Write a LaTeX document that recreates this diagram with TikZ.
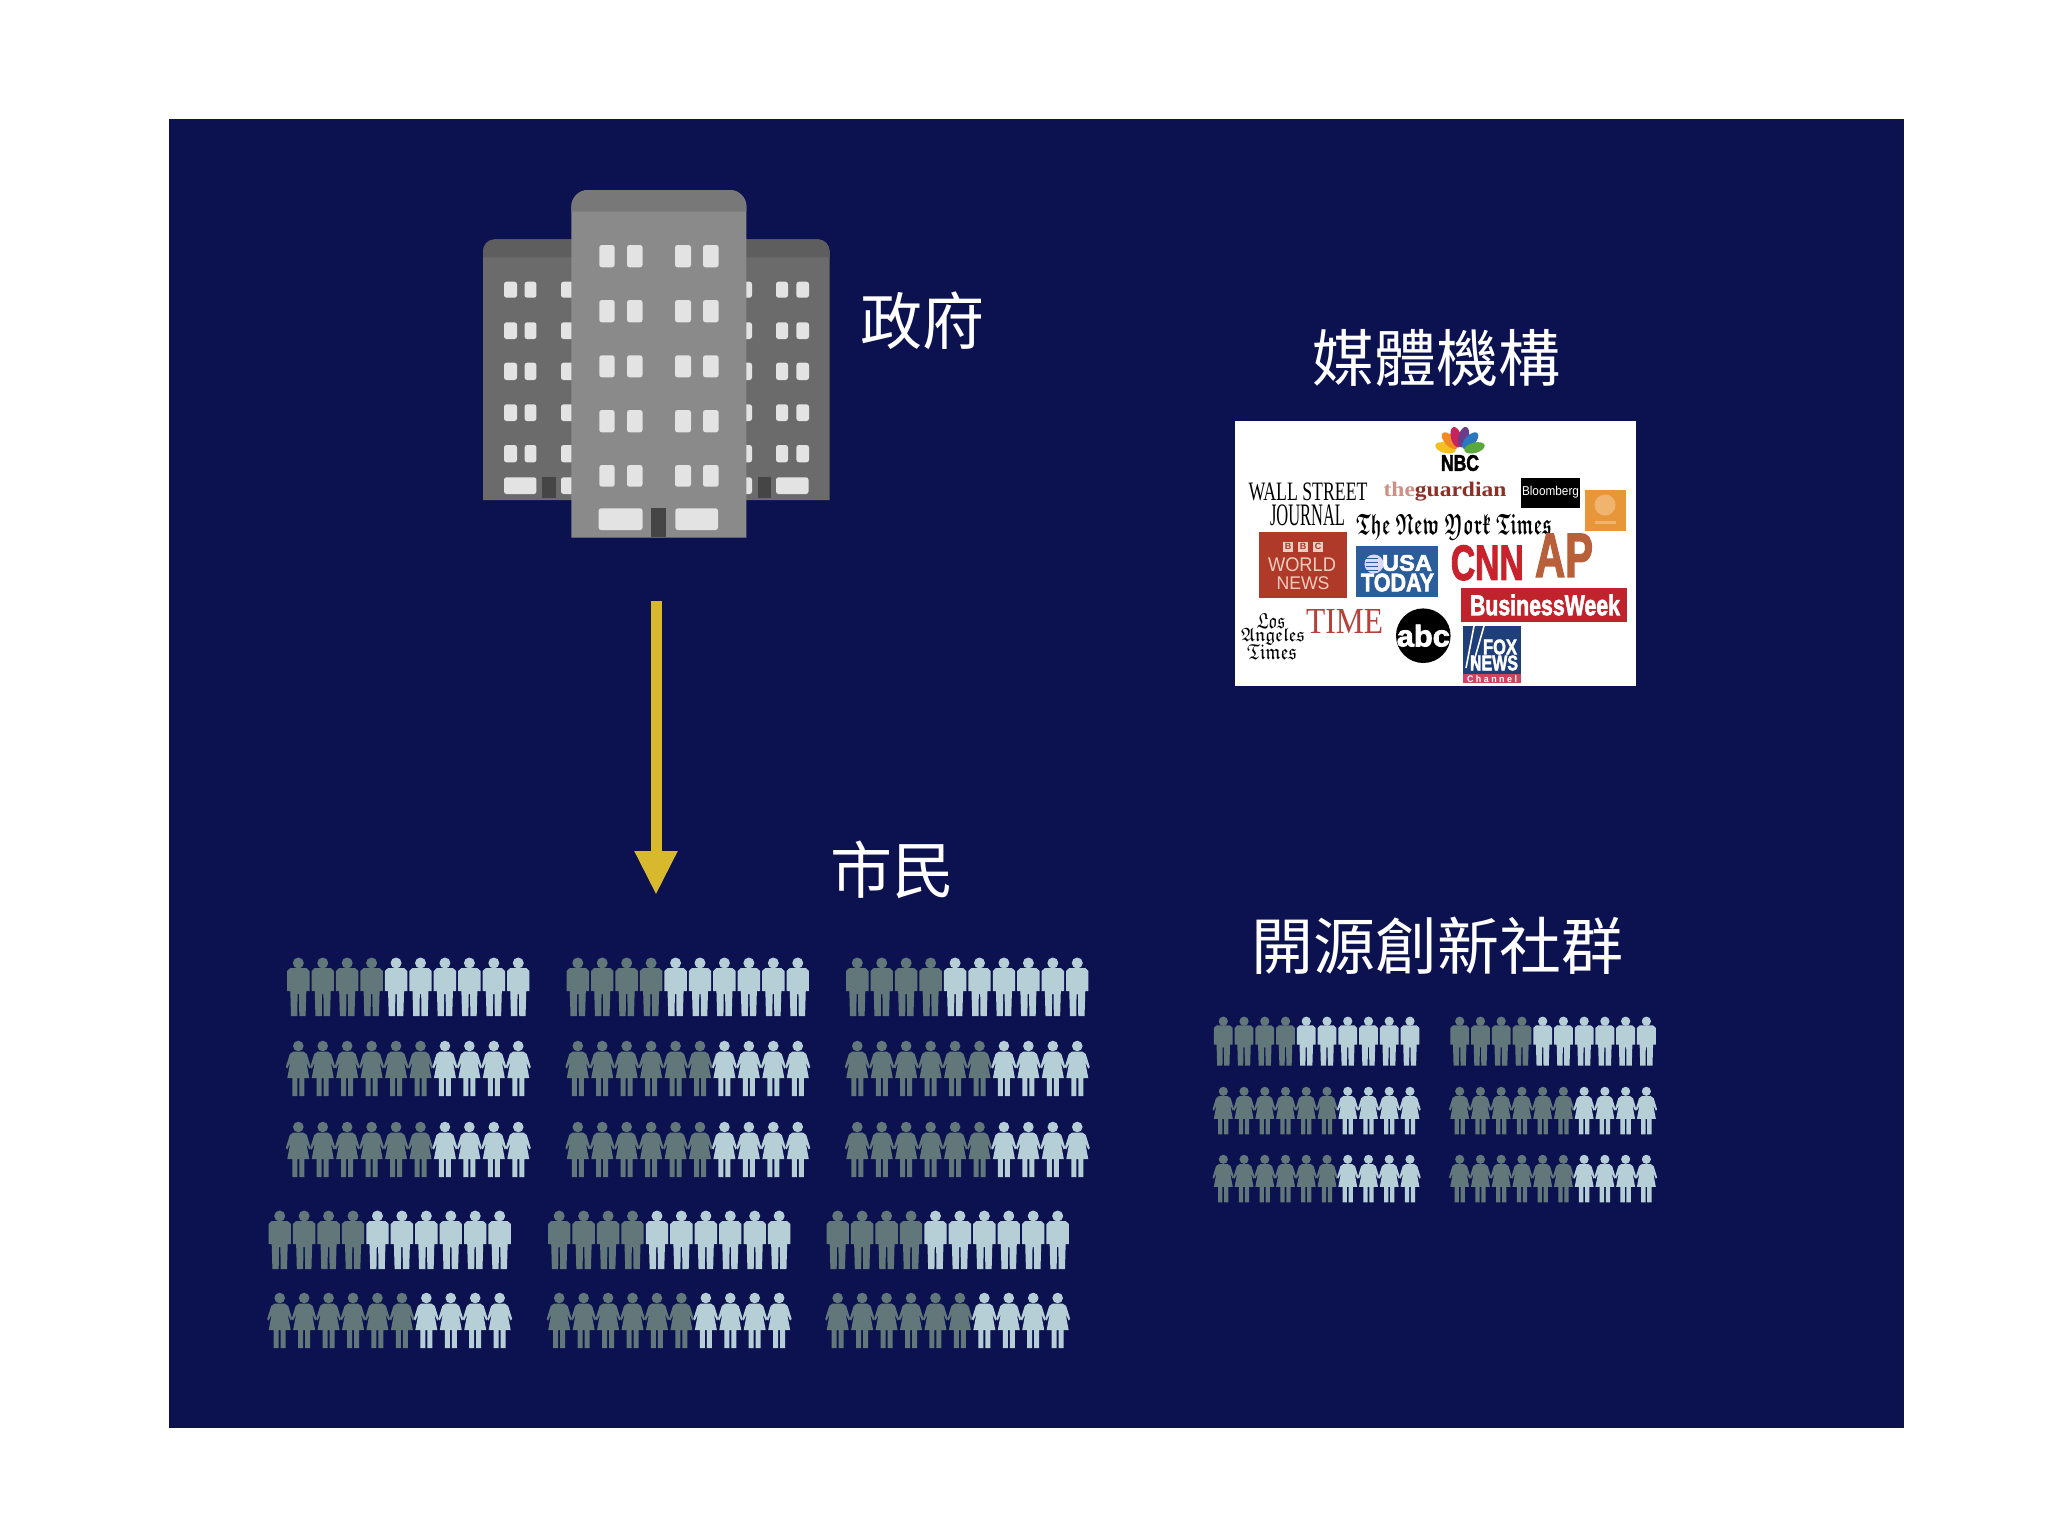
\documentclass[tikz,border=0pt]{standalone}
\usepackage{amssymb}
\usepackage{fontspec}
\usepackage{graphicx}
\setmainfont{Liberation Sans}
\newfontfamily\cjkfont{Noto Sans CJK TC}
\newfontfamily\serifl{Liberation Serif}
\newfontfamily\heavyfont[FakeBold=2.5]{Liberation Sans Bold}
\newcommand{\gothtxt}[1]{\ensuremath{\mathfrak{#1}}}
\usetikzlibrary{arrows.meta,calc}
\definecolor{panelblue}{HTML}{0C1250}
\definecolor{peopledark}{HTML}{62777A}
\definecolor{peoplelight}{HTML}{B6CED6}
\definecolor{arrowgold}{HTML}{D8B92E}
\newcommand{\fitbox}[3]{\resizebox*{#1pt}{#2pt}{#3}}
\tikzset{
  x=1pt,y=-1pt,
  cjklabel/.style={inner sep=0,text=white,font=\cjkfont\fontsize{62}{62}\selectfont},
  logotxt/.style={inner sep=0,anchor=center},
  winpane/.style={fill=#1,rounded corners=2.5pt},
  govarrow/.style={draw=arrowgold,line width=11pt,-{Triangle[length=44pt,width=40pt,fill=arrowgold]}},
  pics/mansign/.style={code={
    \fill[pic actions] (0,5) circle [radius=5.5];
    \fill[pic actions] (-8,10)--(8,10)--(11.2,13)--(11.2,33)--(8,33)--(7.3,58)--(1,58)--(0.7,36)--(-0.7,36)--(-1,58)--(-7.3,58)--(-8,33)--(-11.2,33)--(-11.2,13)--cycle;
  }},
  pics/womansign/.style={code={
    \fill[pic actions] (0,5) circle [radius=5.3];
    \fill[pic actions] (-5,10.5)--(5,10.5)--(8.5,13)--(12.5,26)--(11,27.5)--(8,21)--(11,37)--(6,37)--(6,55)--(1,55)--(1,37)--(-1,37)--(-1,55)--(-6,55)--(-6,37)--(-11,37)--(-8,21)--(-11,27.5)--(-12.5,26)--(-8.5,13)--cycle;
  }},
}
% #1 x of first figure, #2 top y, #3 sign, #4 number of dark figures, #5 spacing, #6 scale
\newcommand{\peoplerow}[6]{%
  \foreach \k in {0,...,9}{%
    \pgfmathtruncatemacro{\dk}{\k<#4 ? 1 : 0}%
    \ifnum\dk=1 \def\pc{peopledark}\else\def\pc{peoplelight}\fi
    \pic[fill=\pc,transform shape] at ({#1+\k*#5},#2) [scale=#6] {#3};%
  }%
}
\begin{document}
\begin{tikzpicture}
\useasboundingbox (0,0) rectangle (2048,1535);
\fill[white] (0,0) rectangle (2048,1535);
\fill[panelblue] (168.5,119) rectangle (1904,1428);

% side buildings
\fill[black!58] (483,500) -- (483,251.3) arc[start angle=180,end angle=90,radius=12pt] -- (817.6,239.3) arc[start angle=90,end angle=0,radius=12pt] -- (829.6,500) -- cycle;
\fill[black!63] (483,257.3) -- (483,251.3) arc[start angle=180,end angle=90,radius=12pt] -- (817.6,239.3) arc[start angle=90,end angle=0,radius=12pt] -- (829.6,257.3) -- cycle;
\foreach \ya/\yb in {281.7/297.7,322.3/339,362.7/380,404.3/421,445/462.3}{
  \foreach \xa/\xb in {504/517,524.6/536.4,561/576,742/752,776/788,796.4/809}{
    \fill[winpane=black!11] (\xa,\ya) rectangle (\xb,\yb);
  }
}
\fill[winpane=black!11] (504,477.3) rectangle (536.4,494);
\fill[winpane=black!11] (561,477.3) rectangle (576,494);
\fill[winpane=black!11] (742,477.3) rectangle (752,494);
\fill[winpane=black!11] (776,477.3) rectangle (808.5,494);
\fill[black!73] (542,477.3) rectangle (555.7,498.3);
\fill[black!73] (757.5,477.3) rectangle (770.7,498.3);

% centre building
\fill[black!46] (571.4,537.7) -- (571.4,206.6) arc[start angle=180,end angle=90,radius=16.6pt] -- (729.8,190) arc[start angle=90,end angle=0,radius=16.6pt] -- (746.4,537.7) -- cycle;
\fill[black!53] (571.4,211.7) -- (571.4,206.6) arc[start angle=180,end angle=90,radius=16.6pt] -- (729.8,190) arc[start angle=90,end angle=0,radius=16.6pt] -- (746.4,211.7) -- cycle;
\foreach \ya/\yb in {245/267.3,300/322.3,355.3/377.3,410/432.3,465/486.7}{
  \foreach \xa/\xb in {599.3/614.6,627/642.5,675/691,703/718.6}{
    \fill[winpane=black!11] (\xa,\ya) rectangle (\xb,\yb);
  }
}
\fill[winpane=black!11] (598.6,508.3) rectangle (642.5,530);
\fill[winpane=black!11] (675.4,508.3) rectangle (718,530);
\fill[black!73] (650.7,508.3) rectangle (666.4,537);

% labels
\node[cjklabel] (gov) at (922,321) {政府};
\node[cjklabel] (media) at (1436,358) {媒體機構};
\node[cjklabel] (citizens) at (892,870) {市民};
\node[cjklabel] (oss) at (1437,946) {開源創新社群};

% arrow
\coordinate (arrowtop) at (656,601);
\coordinate (arrowtip) at (656,895);
\draw[govarrow] (arrowtop) -- (arrowtip);

% media logo panel
\fill[white] (1235,421) rectangle (1635.7,686);

% NBC
\begin{scope}[shift={(1460,451.7)}]
  \foreach \a/\c in {165/F4C020,133/F08A24,105/C8235A,76/6A3D8C,47/2A78C0,15/5AA83C}{
    \definecolor{feather}{HTML}{\c}
    \fill[feather,rotate=\a] (15,0) ellipse [x radius=10.5,y radius=5.2];
  }
\end{scope}
\node[logotxt] (nbc) at (1460,463) {\fitbox{38}{16}{\heavyfont NBC}};

% print logos
\node[logotxt] (wsj1) at (1308,491.6) {\fitbox{119}{18}{\serifl WALL STREET}};
\node[logotxt] (wsj2) at (1307.5,515) {\fitbox{75}{21}{\serifl JOURNAL}};
\node[logotxt] (guardian) at (1445,492) {\fitbox{122.7}{19}{\serifl\bfseries\textcolor[HTML]{CE8F85}{the}\textcolor[HTML]{8E2F25}{guardian}}};
\fill[black] (1521,477.7) rectangle (1580,508.3);
\node[logotxt,text=white] (bloomberg) at (1550.5,492) {\fitbox{57}{12}{Bloomberg}};
\fill[fill={rgb,255:red,232;green,150;blue,58}] (1584.7,490) rectangle (1625.7,531);
\fill[fill={rgb,255:red,240;green,180;blue,110}] (1605,505) circle [radius=10.5];
\fill[fill={rgb,255:red,240;green,180;blue,110}] (1595,521) rectangle (1616,524);
\node[logotxt] (nyt) at (1454,527) {\fitbox{196}{26}{\mathversion{bold}\gothtxt{The\ New\ York\ Times}}};

% BBC
\fill[fill={rgb,255:red,176;green,58;blue,42}] (1259.3,532.3) rectangle (1347.3,598.3);
\foreach \n/\l/\xx in {bbca/B/1288,bbcb/B/1303,bbcc/C/1318}{
  \node[fill={rgb,255:red,238;green,205;blue,195},text={rgb,255:red,176;green,58;blue,42},minimum size=10pt,inner sep=0,font=\bfseries\fontsize{9}{9}\selectfont] (\n) at (\xx,546.7) {\l};
}
\node[logotxt,text={rgb,255:red,240;green,205;blue,190}] (bbc1) at (1302,565) {\fitbox{68}{14}{WORLD}};
\node[logotxt,text={rgb,255:red,240;green,205;blue,190}] (bbc2) at (1303,583.5) {\fitbox{53}{13}{NEWS}};

% USA Today
\fill[fill={rgb,255:red,43;green,93;blue,155}] (1356,546) rectangle (1438.3,596.7);
\fill[white!85!blue] (1374,564) circle [radius=9.5];
\foreach \yy in {558,562,566,570}{\fill[fill={rgb,255:red,43;green,93;blue,155}] (1366,\yy) rectangle (1378,\yy+1.2);}
\node[logotxt,text=white] (usa) at (1407,563) {\fitbox{50}{16}{\heavyfont USA}};
\node[logotxt,text=white] (today) at (1397.5,582.5) {\fitbox{73}{18}{\heavyfont TODAY}};

% CNN
\node[logotxt,text={rgb,255:red,200;green,35;blue,44}] (cnn) at (1487.3,562.8) {\fitbox{73}{35}{\heavyfont CNN}};
% AP
\node[logotxt,text={rgb,255:red,184;green,96;blue,58}] (ap) at (1564,555.3) {\fitbox{58}{43}{\heavyfont AP}};
% BusinessWeek
\fill[fill={rgb,255:red,192;green,35;blue,43}] (1461,587.7) rectangle (1627.3,622.3);
\node[logotxt,text=white] (bw) at (1545,605) {\fitbox{150}{21}{\heavyfont BusinessWeek}};
% LA Times
\node[logotxt] (la1) at (1271,621) {\fitbox{29}{15}{\gothtxt{Los}}};
\node[logotxt] (la2) at (1273,636.5) {\fitbox{64}{17}{\gothtxt{Angeles}}};
\node[logotxt] (la3) at (1272,652) {\fitbox{50}{15}{\gothtxt{Times}}};
% TIME
\node[logotxt,text={rgb,255:red,181;green,65;blue,58}] (time) at (1344.7,621) {\fitbox{77}{24}{\serifl TIME}};
% abc
\fill[black] (1423.3,635.7) circle [radius=27.3];
\node[logotxt,text=white] (abc) at (1423.3,635.7) {\fitbox{53}{22}{\heavyfont abc}};
% Fox
\fill[fill={rgb,255:red,31;green,63;blue,122}] (1463.3,626) rectangle (1521,683.3);
\draw[white,line width=1.6pt] (1474,626) -- (1466,668);
\draw[white,line width=1.6pt] (1484,626) -- (1472,668);
\node[logotxt,text=white] (fox) at (1500,647) {\fitbox{34}{15}{\heavyfont FOX}};
\node[logotxt,text=white] (news) at (1494,663) {\fitbox{48}{15}{\heavyfont NEWS}};
\fill[fill={rgb,255:red,200;green,70;blue,100}] (1463.3,674) rectangle (1521,683.3);
\node[logotxt,text=white] (channel) at (1492,678.7) {\fitbox{50}{7}{\bfseries C h a n n e l}};

% citizens
\foreach \gx in {298.3,577.8,857.3}{
  \peoplerow{\gx}{958}{mansign}{4}{24.44}{1}
  \peoplerow{\gx}{1041}{womansign}{6}{24.44}{1}
  \peoplerow{\gx}{1122}{womansign}{6}{24.44}{1}
}
\foreach \gx in {279.7,559.2,837.7}{
  \peoplerow{\gx}{1211}{mansign}{4}{24.44}{1}
  \peoplerow{\gx}{1293}{womansign}{6}{24.44}{1}
}
% community
\foreach \gx in {1223.3,1459.7}{
  \peoplerow{\gx}{1017}{mansign}{4}{20.74}{0.84}
  \peoplerow{\gx}{1087}{womansign}{6}{20.74}{0.86}
  \peoplerow{\gx}{1155}{womansign}{6}{20.74}{0.86}
}
\end{tikzpicture}
\end{document}
